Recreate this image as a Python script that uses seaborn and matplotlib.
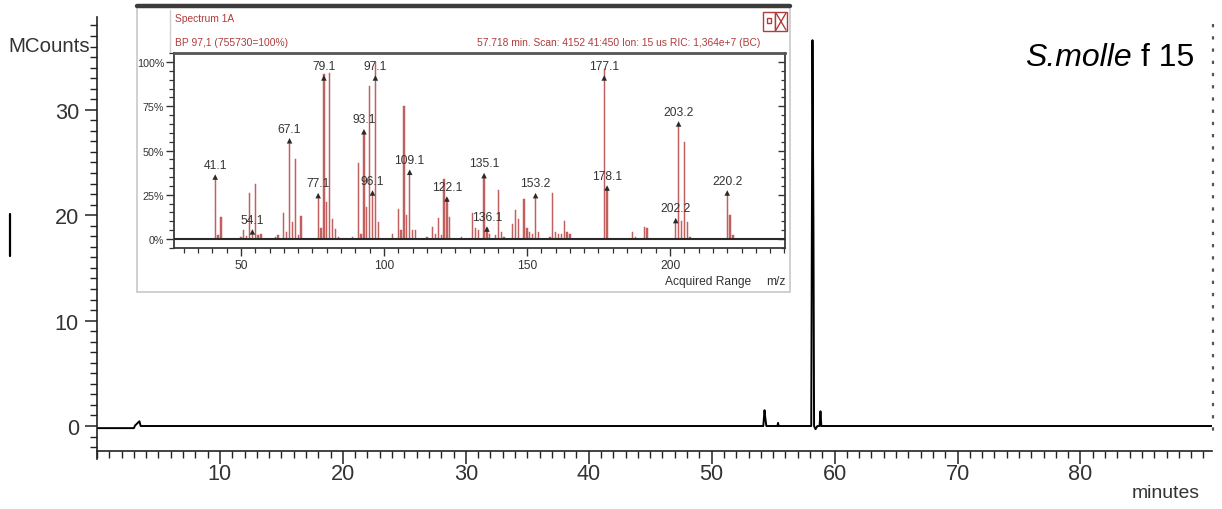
import matplotlib
matplotlib.use("Agg")
import matplotlib.pyplot as plt
import numpy as np
import pandas as pd
import seaborn as sns
from matplotlib import font_manager as fm
from matplotlib.lines import Line2D
from matplotlib.patches import Rectangle
from matplotlib.ticker import MultipleLocator, FixedLocator, FixedFormatter

# ---------------- data ----------------
chrom_time = [0.0, 3.0, 3.1, 3.45, 3.55, 3.7, 54.2, 54.3, 54.36, 54.45, 55.35, 55.4, 55.45,
              58.1, 58.2, 58.28, 58.33, 58.45, 58.6, 58.78, 58.85, 58.92, 90.7]
chrom_mcounts = [-0.2, -0.2, 0.05, 0.45, 0.0, 0.0, 0.0, 1.5, 0.8, 0.0, 0.0, 0.3, 0.0,
                 0.0, 36.6, 19.0, 0.0, -0.3, 0.0, 0.0, 1.4, 0.0, 0.0]
main_xticks = [10, 20, 30, 40, 50, 60, 70, 80]
main_yticks = [0, 10, 20, 30]

ms_mz = [41, 42, 43, 50, 51, 52, 53, 54, 55, 56, 57, 62, 63, 65, 66, 67, 68, 69, 70, 71,
         77, 78, 79, 80, 81, 82, 83, 84, 89, 91, 92, 93, 94, 95, 96, 97, 98,
         103, 105, 106, 107, 108, 109, 110, 111, 115, 117, 118, 119, 120, 121, 122, 123,
         127, 131, 132, 133, 135, 136, 137, 139, 140, 141, 142, 145, 146, 147, 149, 150,
         151, 152, 153, 154, 158, 159, 160, 161, 162, 163, 164, 165, 177, 178, 187, 188,
         191, 192, 202, 203, 204, 205, 206, 207, 220, 221, 222]
ms_rel = [35, 2, 12.5, 1, 5, 1.5, 26, 4, 31, 2, 3, 1, 2, 14.7, 4, 55.5, 9.4, 45, 2, 12.8,
          24.5, 6, 93, 21, 94, 11.3, 5.6, 1, 1, 43, 3, 60.6, 18, 86.6, 26, 100, 9.4,
          3, 17, 5, 75, 13.7, 37.7, 5, 5, 1, 7, 3, 11.7, 2, 34, 22.6, 12.2,
          1, 14.5, 6, 5, 35.8, 6, 3, 2, 27.9, 4, 1, 8.5, 16.6, 11.3, 22.6, 6,
          4, 3, 24.5, 4, 1, 25.8, 4, 3, 3, 10, 4, 3, 96, 28.8, 4, 1,
          6.6, 6, 10.4, 65, 10, 55, 9.8, 1, 26, 13.5, 2]
label_mz = [41, 54, 67, 77, 79, 93, 96, 97, 109, 122, 135, 136, 153, 177, 178, 202, 203, 220]
label_rel = [35, 4, 55.5, 24.5, 91, 60.6, 26, 91, 37.7, 22.6, 35.8, 5.6, 24.5, 91, 28.8, 10.4, 65, 26]
label_text = ['41.1', '54.1', '67.1', '77.1', '79.1', '93.1', '96.1', '97.1', '109.1', '122.1',
              '135.1', '136.1', '153.2', '177.1', '178.1', '202.2', '203.2', '220.2']
ms_xticks = [50, 100, 150, 200]
ms_yticks = [0, 25, 50, 75, 100]
ms_ytick_labels = ['0%', '25%', '50%', '75%', '100%']

header_title = 'Spectrum 1A'
header_bp = 'BP 97,1 (755730=100%)'
header_info = '57.718 min. Scan: 4152 41:450 Ion: 15 us RIC: 1,364e+7 (BC)'
sample_italic = 'S.molle'
sample_rest = ' f 15'

# ---------------- fonts ----------------
def has_font(name):
    try:
        fm.findfont(fm.FontProperties(family=name), fallback_to_default=False)
        return True
    except Exception:
        return False

if has_font('Liberation Sans Narrow'):
    NARROW, K = 'Liberation Sans Narrow', 1.0
else:
    NARROW, K = 'Liberation Sans', 0.82

sns.set_theme(style='white')
plt.rcParams['font.family'] = [NARROW, 'DejaVu Sans']

W, H = 1222, 510
fig = plt.figure(figsize=(W / 100, H / 100), dpi=100)
fig.patch.set_facecolor('white')

def fx(px):
    return px / W

def fy(py):
    return 1 - py / H

# ---------------- main chromatogram ----------------
ax = fig.add_axes([fx(97), fy(452), fx(1212) - fx(97), fy(18) - fy(452)])
ax.set_zorder(0)
sns.lineplot(x=chrom_time, y=chrom_mcounts, ax=ax, color='black', lw=1.4,
             sort=False, estimator=None)
ax.set_xlim(0, 90.7)
ax.set_ylim(-2.37, 38.8)
for s in ['top', 'right']:
    ax.spines[s].set_visible(False)
for s in ['left', 'bottom']:
    ax.spines[s].set_color('#222222')
    ax.spines[s].set_linewidth(1.2)
ax.spines['left'].set_bounds(-3.1, 38.8)
ax.xaxis.set_major_locator(FixedLocator(main_xticks))
ax.yaxis.set_major_locator(FixedLocator(main_yticks))
ax.xaxis.set_minor_locator(MultipleLocator(1))
ax.yaxis.set_minor_locator(MultipleLocator(1))
ax.tick_params(axis='both', which='major', direction='out', length=9, width=1.1,
               color='#222222', labelsize=19 * K, labelcolor='#333333',
               bottom=True, left=True)
ax.tick_params(axis='both', which='minor', direction='out', length=5, width=1.0,
               color='#222222', bottom=True, left=True)
ax.tick_params(axis='x', pad=0)
ax.tick_params(axis='y', pad=4)
ax.set_xlabel('')
ax.set_ylabel('')
ax.grid(False)

fig.text(fx(90), fy(46), 'MCounts', ha='right', va='center', fontsize=18 * K, color='#333333')
fig.text(fx(1200), fy(494), 'minutes', ha='right', va='center', fontsize=17 * K, color='#333333')

t1 = fig.text(fx(1025), fy(66), sample_italic, ha='left', va='baseline',
              fontsize=23, style='italic', family='Liberation Sans', color='black')
ax.annotate(sample_rest, xy=(1, 0), xycoords=t1, ha='left', va='bottom',
            fontsize=23, family='Liberation Sans', color='black', annotation_clip=False)

# artefacts at edges
fig.add_artist(Line2D([fx(10), fx(10)], [fy(215), fy(257)], color='black', lw=1.6))
fig.add_artist(Line2D([fx(1213), fx(1213)], [fy(25), fy(440)], color='#555555', lw=1.6,
                      linestyle=(0, (1.5, 4))))

# ---------------- inset window ----------------
win = Rectangle((fx(137), fy(293)), fx(790) - fx(137), fy(8) - fy(293),
                transform=fig.transFigure, facecolor='white', edgecolor='#c8c8c8',
                lw=1.2, zorder=0.5)
fig.add_artist(win)
fig.add_artist(Line2D([fx(137), fx(790)], [fy(7), fy(7)], color='#3c3c3c', lw=3.2, zorder=0.6))
fig.add_artist(Line2D([fx(170), fx(170)], [fy(11), fy(53)], color='#d0d0d0', lw=1.0, zorder=0.6))

RED = '#b03c3c'
fig.text(fx(175), fy(19), header_title, ha='left', va='center', fontsize=9 * K, color=RED, zorder=3)
fig.text(fx(175), fy(43), header_bp, ha='left', va='center', fontsize=9 * K, color=RED, zorder=3)
fig.text(fx(760), fy(43), header_info, ha='right', va='center', fontsize=9 * K, color=RED, zorder=3)
# window icons
for x0 in [763, 775]:
    fig.add_artist(Rectangle((fx(x0), fy(32)), fx(12), fy(0) - fy(19), transform=fig.transFigure,
                             facecolor='white', edgecolor=RED, lw=1.0, zorder=3))
fig.add_artist(Rectangle((fx(767), fy(24)), fx(4), fy(0) - fy(5), transform=fig.transFigure,
                         facecolor='white', edgecolor=RED, lw=1.0, zorder=3))
fig.add_artist(Line2D([fx(776), fx(786)], [fy(14), fy(31)], color=RED, lw=1.0, zorder=3))
fig.add_artist(Line2D([fx(776), fx(786)], [fy(31), fy(14)], color=RED, lw=1.0, zorder=3))

axi = fig.add_axes([fx(174), fy(249), fx(785) - fx(174), fy(54) - fy(249)])
axi.set_zorder(2)
BAR = '#c25f5f'
sns.barplot(x=ms_mz, y=ms_rel, native_scale=True, width=0.45, color=BAR, saturation=1,
            errorbar=None, linewidth=0.35, edgecolor=BAR, ax=axi)
sns.scatterplot(x=label_mz, y=label_rel, marker='^', s=16, color='#2a2a2a',
                edgecolor='none', ax=axi, zorder=4)
for m, r, t in zip(label_mz, label_rel, label_text):
    axi.annotate(t, xy=(m, r), xytext=(0, 4.5), textcoords='offset points',
                 ha='center', va='bottom', fontsize=10.5 * K, color='#333333', zorder=5)
axi.axhline(0, color='#2a2a2a', lw=1.5, zorder=3)
axi.set_xlim(26.6, 240.2)
axi.set_ylim(-5.1, 105.1)
axi.set_facecolor('white')
for s in axi.spines.values():
    s.set_visible(True)
    s.set_color('#3a3a3a')
    s.set_linewidth(1.3)
axi.spines['top'].set_color('#555555')
axi.spines['top'].set_linewidth(2.0)
axi.xaxis.set_major_locator(FixedLocator(ms_xticks))
axi.xaxis.set_minor_locator(MultipleLocator(5))
axi.yaxis.set_major_locator(FixedLocator(ms_yticks))
axi.yaxis.set_major_formatter(FixedFormatter(ms_ytick_labels))
axi.yaxis.set_minor_locator(MultipleLocator(5))
axi.tick_params(axis='both', which='major', direction='out', length=6, width=1.0,
                color='#333333', labelsize=10.5 * K, labelcolor='#333333',
                bottom=True, left=True, pad=2)
axi.tick_params(axis='both', which='minor', direction='out', length=3.5, width=0.9,
                color='#333333', bottom=True, left=True)
axi.tick_params(axis='y', labelsize=9.5 * K, pad=1)
sec = axi.secondary_yaxis('right')
sec.yaxis.set_major_locator(FixedLocator(ms_yticks))
sec.yaxis.set_minor_locator(MultipleLocator(5))
sec.tick_params(which='major', direction='in', length=5, width=1.0, color='#333333', labelright=False)
sec.tick_params(which='minor', direction='in', length=3, width=0.9, color='#333333')
sec.spines['right'].set_visible(False)
axi.set_xlabel('')
axi.set_ylabel('')
axi.grid(False)

fig.text(fx(665), fy(282), 'Acquired Range', ha='left', va='center', fontsize=10.5 * K,
         color='#333333', zorder=3)
fig.text(fx(786), fy(282), 'm/z', ha='right', va='center', fontsize=10.5 * K,
         color='#333333', zorder=3)

fig.savefig('out.png', dpi=100, facecolor='white')
